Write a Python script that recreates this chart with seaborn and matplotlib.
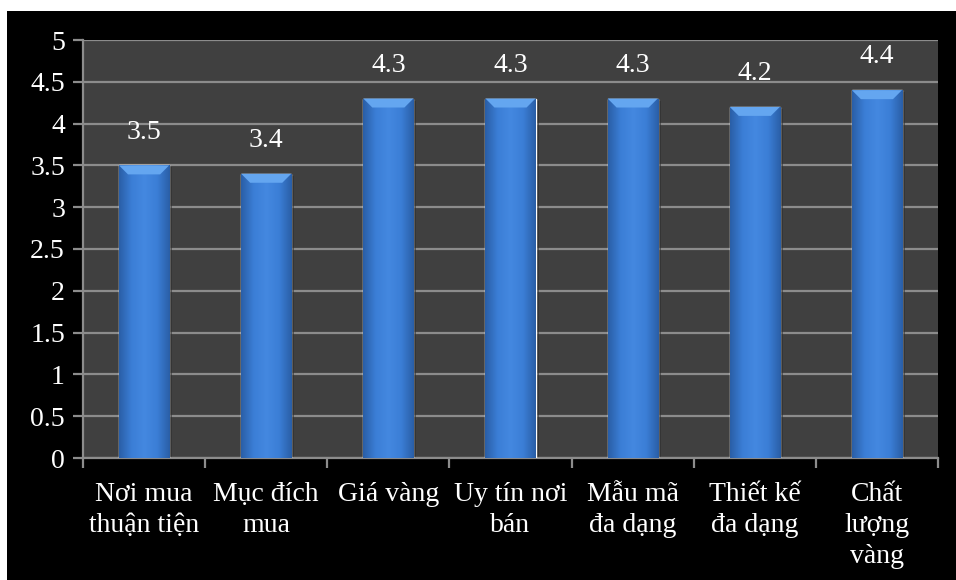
import numpy as np
import matplotlib
matplotlib.use("Agg")
import matplotlib.pyplot as plt
from matplotlib.patches import Rectangle, Polygon
from matplotlib.colors import LinearSegmentedColormap
import seaborn as sns

categories = ["Nơi mua\nthuận tiện", "Mục đích\nmua", "Giá vàng", "Uy tín nơi\nbán",
              "Mẫu mã\nđa dạng", "Thiết kế\nđa dạng", "Chất\nlượng\nvàng"]
values = [3.5, 3.4, 4.3, 4.3, 4.3, 4.2, 4.4]
y_ticks = [0, 0.5, 1, 1.5, 2, 2.5, 3, 3.5, 4, 4.5, 5]

sns.set_theme(style="dark")
plt.rcParams["font.family"] = ["Liberation Serif", "DejaVu Serif"]

FS = 20

fig = plt.figure(figsize=(9.56, 5.8), dpi=100)
fig.patch.set_facecolor("white")
# black panel behind the chart
fig.patches.append(Rectangle((7 / 956, 0), 1, 1 - 11 / 580, transform=fig.transFigure,
                             facecolor="black", edgecolor="none", zorder=-10))

ax = fig.add_axes([83 / 956, 1 - 458 / 580, (938 - 83) / 956, (458 - 40) / 580])
ax.set_facecolor("#404040")

sns.barplot(x=categories, y=values, color="#3a7bd3", width=0.41, ax=ax,
            saturation=1, zorder=3)

grid_col = "#8c8c8c"
ax.set_ylim(0, 5)
ax.set_yticks(y_ticks)
ax.set_yticklabels([f"{t:g}" for t in y_ticks])
ax.yaxis.grid(True, color=grid_col, linewidth=1.6)
ax.xaxis.grid(False)
ax.set_axisbelow(True)
ax.set_xlim(-0.5, len(categories) - 0.5)

for side in ("top", "right"):
    ax.spines[side].set_visible(False)
for side in ("left", "bottom"):
    ax.spines[side].set_visible(True)
    ax.spines[side].set_color(grid_col)
    ax.spines[side].set_linewidth(1.6)

ax.set_xticks(np.arange(-0.5, len(categories), 1), minor=True)
ax.tick_params(axis="x", which="major", length=0, pad=17, labelsize=FS, colors="white")
ax.tick_params(axis="x", which="minor", length=7, width=1.6, color=grid_col, bottom=True)
ax.tick_params(axis="y", which="major", length=7, width=1.6, color=grid_col, left=True,
               labelsize=FS, labelcolor="white", pad=6)
for lbl in ax.get_xticklabels():
    lbl.set_linespacing(1.32)
    lbl.set_verticalalignment("top")
ax.set_xlabel("")
ax.set_ylabel("")

# shaded bar faces with a bevelled top
cmap = LinearSegmentedColormap.from_list(
    "barshade", ["#2a5ea6", "#3b7ed6", "#4488e0", "#3b7ed6", "#2a5ea6"])
grad = np.linspace(0, 1, 256).reshape(1, -1)
px_y = 5 / 418.0
px_x = len(categories) / 855.0
for bar in ax.patches:
    x0, w, h = bar.get_x(), bar.get_width(), bar.get_height()
    # soft shadow on the right side
    ax.add_patch(Rectangle((x0 + 3 * px_x, 0), w, h - 2 * px_y, facecolor="#2e2e2e",
                           edgecolor="none", alpha=0.6, zorder=2))
    im = ax.imshow(grad, extent=(x0, x0 + w, 0, h), aspect="auto", cmap=cmap,
                   zorder=4, interpolation="bicubic")
    im.set_clip_path(bar)
    dx, dy = 9 * px_x, 9 * px_y
    ax.add_patch(Polygon([(x0, h), (x0 + w, h), (x0 + w - dx, h - dy), (x0 + dx, h - dy)],
                         closed=True, facecolor="#64a6f0", edgecolor="none", zorder=5))
ax.set_xlim(-0.5, len(categories) - 0.5)
ax.set_ylim(0, 5)

ax.bar_label(ax.containers[0], fmt="%.1f", padding=15, color="white", fontsize=FS)

fig.savefig("out.png", dpi=100, facecolor=fig.get_facecolor())
